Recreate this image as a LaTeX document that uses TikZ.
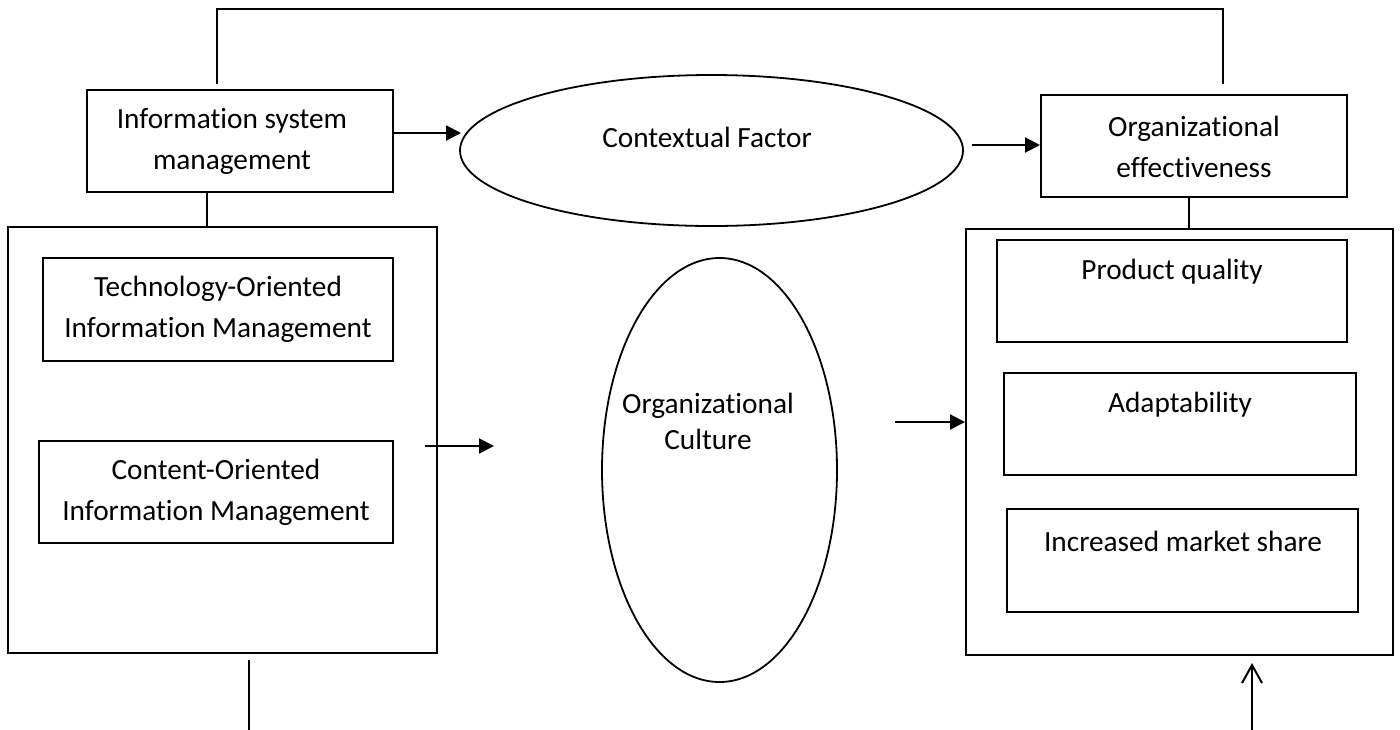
\documentclass[tikz,border=0pt]{standalone}
\usepackage{fontspec}
\setmainfont{Carlito}[Ligatures={NoCommon,NoRare},Contextuals=NoAlternate]
\usetikzlibrary{arrows.meta,shapes.geometric,calc}
\begin{document}
\begin{tikzpicture}[x=0.5pt,y=-0.5pt,
 box/.style={draw,line width=1pt,inner sep=0pt},
 oval/.style={draw,ellipse,line width=0.9pt,inner sep=0pt},
 txt/.style={font=\fontsize{14.65}{20.5}\selectfont,align=center,inner sep=0pt},
 txtb/.style={font=\fontsize{14.65}{18}\selectfont,align=center,inner sep=0pt},
 link/.style={line width=0.9pt},
 arr/.style={line width=1pt,-{Triangle[length=7.5pt,width=7.5pt]}},
 oarr/.style={line width=1pt,-{Straight Barb[length=9pt,width=10pt]}}]
\useasboundingbox (0,0) rectangle (1400,729);
\fill[white] (0,0) rectangle (1400,729);

% top row
\node[box,minimum width=153pt,minimum height=51pt] (ism) at (240,141) {};
\node[txt] (ismt) at (232,141.5) {Information system\\management};
\node[oval,minimum width=251.5pt,minimum height=75.5pt] (ctx) at (711.5,150.5) {};
\node[txt] (ctxt) at (707,137) {Contextual Factor};
\node[box,minimum width=153pt,minimum height=51pt] (oe) at (1194,146) {};
\node[txt] (oet) at (1194,146.5) {Organizational\\effectiveness};

% left group
\node[box,minimum width=214.5pt,minimum height=213pt] (lbox) at (222.5,440) {};
\node[box,minimum width=175pt,minimum height=51.5pt] (toim) at (218,309.5) {};
\node[txt] (toimt) at (218,309.5) {Technology-Oriented\\Information Management};
\node[box,minimum width=177pt,minimum height=51pt] (coim) at (216,492) {};
\node[txt] (coimt) at (216,492) {Content-Oriented\\Information Management};

% middle
\node[oval,minimum width=117.5pt,minimum height=212pt] (cult) at (719.5,470) {};
\node[txtb] (cultt) at (708,421) {Organizational\\Culture};

% right group
\node[box,minimum width=213.5pt,minimum height=213pt] (rbox) at (1179.5,442) {};
\node[box,minimum width=175pt,minimum height=51pt] (pq) at (1172,291) {};
\node[txt] (pqt) at (1172,272) {Product quality};
\node[box,minimum width=176pt,minimum height=51pt] (ad) at (1180,424) {};
\node[txt] (adt) at (1180,405) {Adaptability};
\node[box,minimum width=175.5pt,minimum height=51.5pt] (ims) at (1182.5,560.5) {};
\node[txt] (imst) at (1183,541) {Increased market share};

% connectors
\draw[link] ($(ism.north)+(-23,-5)$) -- ++(0,-75) -| ($(oe.north)+(29,-10)$);
\draw[arr] ($(ism.east)+(0,-8)$) -- ++(67,0);
\draw[arr] ($(oe.west)+(-68,-1)$) -- ($(oe.west)+(0,-1)$);
\draw[link] ($(ism.south)+(-33,0)$) -- ($(lbox.north)+(-15.5,0)$);
\draw[link] ($(oe.south)+(-5,0)$) -- ($(rbox.north)+(9.5,0)$);
\draw[arr] ($(lbox.east)+(-13,6)$) -- ++(69,0);
\draw[arr] ($(rbox.west)+(-70,-20)$) -- ($(rbox.west)+(0,-20)$);
\draw[link] ($(lbox.south)+(26.5,6)$) -- ++(0,70);
\draw[oarr] ($(rbox.south)+(72.5,74)$) -- ($(rbox.south)+(72.5,7)$);
\end{tikzpicture}
\end{document}
